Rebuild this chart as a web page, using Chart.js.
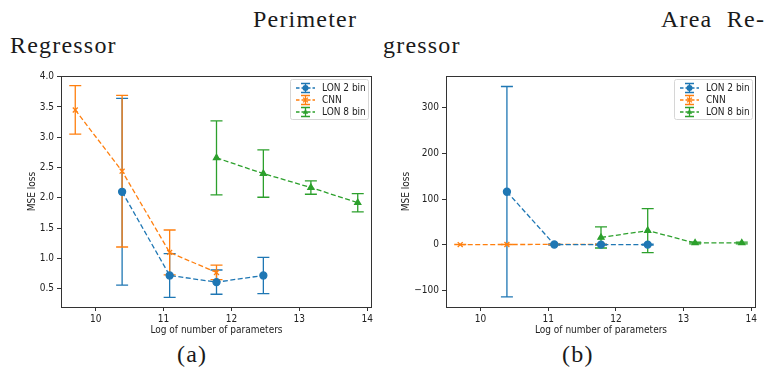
<!DOCTYPE html>
<html lang="en">
<head>
<meta charset="UTF-8">
<title>Perimeter / Area Regressor</title>
<script src="https://cdn.jsdelivr.net/npm/chart.js"></script>
<style>
    body { margin: 0; width: 765px; height: 378px; background: #fff; position: relative; overflow: hidden; }
    .tex { position: absolute; font-family: 'Liberation Serif', serif; font-size: 24px; line-height: 24px; color: #1a1a1a; letter-spacing: 1.2px; white-space: nowrap; }
    canvas { position: absolute; }
</style>
</head>
<body>
    <div class="tex" style="left:253px; top:7px;">Perimeter</div>
    <div class="tex" style="left:10px; top:33px;">Regressor</div>
    <div class="tex" style="left:661px; top:7px;">Area&nbsp; Re-</div>
    <div class="tex" style="left:383px; top:33px;">gressor</div>
    <div class="tex" style="left:177px; top:342px;">(a)</div>
    <div class="tex" style="left:562px; top:342px;">(b)</div>

    <canvas id="perimChart" width="385" height="274" style="left:0; top:66px;"></canvas>
    <canvas id="areaChart" width="380" height="274" style="left:385px; top:66px;"></canvas>

<script>
    // x positions (log of number of parameters)
    const lon2X = [10.39, 11.09, 11.78, 12.47];
    const cnnX = [9.70, 10.39, 11.09, 11.78];
    const lon8X = [11.78, 12.47, 13.17, 13.86];

    // (a) perimeter regressor: mean MSE and error bar half-length
    const lon2Perim = [2.10, 0.72, 0.61, 0.72];
    const lon2PerimErr = [1.54, 0.36, 0.20, 0.30];
    const cnnPerim = [3.45, 2.44, 1.10, 0.77];
    const cnnPerimErr = [0.40, 1.25, 0.37, 0.12];
    const lon8Perim = [2.66, 2.40, 2.17, 1.92];
    const lon8PerimErr = [0.61, 0.39, 0.11, 0.15];

    // (b) area regressor
    const lon2Area = [116, 0.6, 0.4, 0.4];
    const lon2AreaErr = [230, 1.5, 1.0, 1.0];
    const cnnArea = [0.5, 0.6, 0.8, 0.7];
    const cnnAreaErr = [0.3, 0.3, 0.3, 0.3];
    const lon8Area = [16, 31, 4, 4];
    const lon8AreaErr = [23, 48, 2, 2];

    const xTicks = [10, 11, 12, 13, 14];

    const BLUE = '#1f77b4', ORANGE = '#ff7f0e', GREEN = '#2ca02c';
    const SANS = "'DejaVu Sans Condensed', 'DejaVu Sans', sans-serif";
    const FS = 10;

    function pts(xs, ys) {
        return xs.map((x, i) => ({ x: x, y: ys[i] }));
    }

    function drawMarker(ctx, style, color, x, y, r) {
        ctx.save();
        ctx.fillStyle = color;
        ctx.strokeStyle = color;
        ctx.lineWidth = 1.3;
        ctx.setLineDash([]);
        ctx.beginPath();
        if (style === 'circle') {
            ctx.arc(x, y, r, 0, Math.PI * 2);
            ctx.fill();
        } else if (style === 'triangle') {
            ctx.moveTo(x, y - r);
            ctx.lineTo(x + r * 0.9, y + r * 0.6);
            ctx.lineTo(x - r * 0.9, y + r * 0.6);
            ctx.closePath();
            ctx.fill();
        } else {
            ctx.moveTo(x - r * 0.8, y - r * 0.8); ctx.lineTo(x + r * 0.8, y + r * 0.8);
            ctx.moveTo(x + r * 0.8, y - r * 0.8); ctx.lineTo(x - r * 0.8, y + r * 0.8);
            ctx.stroke();
        }
        ctx.restore();
    }

    // vertical error bars with caps, drawn under the lines
    const errorBars = {
        id: 'errorBars',
        beforeDatasetsDraw(chart) {
            const ctx = chart.ctx;
            const xs = chart.scales.x, ys = chart.scales.y;
            chart.data.datasets.forEach(ds => {
                ctx.save();
                ctx.strokeStyle = ds.borderColor;
                ctx.lineWidth = 1.3;
                ds.data.forEach((p, i) => {
                    const e = ds.errors[i];
                    const px = xs.getPixelForValue(p.x);
                    const top = ys.getPixelForValue(p.y + e);
                    const bot = ys.getPixelForValue(p.y - e);
                    ctx.beginPath();
                    ctx.moveTo(px, top); ctx.lineTo(px, bot);
                    ctx.moveTo(px - 6, top); ctx.lineTo(px + 6, top);
                    ctx.moveTo(px - 6, bot); ctx.lineTo(px + 6, bot);
                    ctx.stroke();
                });
                ctx.restore();
            });
        }
    };

    // axes frame + matplotlib-style legend in the upper right
    const frameLegend = {
        id: 'frameLegend',
        afterDraw(chart) {
            const ctx = chart.ctx;
            const a = chart.chartArea;
            ctx.save();
            ctx.strokeStyle = '#333';
            ctx.lineWidth = 1;
            ctx.strokeRect(a.left + 0.5, a.top + 0.5, a.right - a.left - 1, a.bottom - a.top);

            const bw = 78, bh = 40;
            const bx = a.right - 4 - bw, by = a.top + 3;
            ctx.fillStyle = 'rgba(255,255,255,0.85)';
            ctx.strokeStyle = '#d6d6d6';
            ctx.beginPath();
            ctx.roundRect(bx + 0.5, by + 0.5, bw, bh, 2);
            ctx.fill();
            ctx.stroke();

            ctx.font = FS + 'px ' + SANS;
            ctx.textBaseline = 'middle';
            const rows = [9, 21, 33];
            chart.data.datasets.forEach((ds, i) => {
                const y = by + rows[i];
                const hx = bx + 6, cx = hx + 9.5;
                ctx.strokeStyle = ds.borderColor;
                ctx.lineWidth = 1.3;
                ctx.setLineDash([3.5, 2]);
                ctx.beginPath();
                ctx.moveTo(hx, y); ctx.lineTo(hx + 19, y);
                ctx.stroke();
                ctx.setLineDash([]);
                ctx.beginPath();
                ctx.moveTo(cx, y - 4.5); ctx.lineTo(cx, y + 4.5);
                ctx.moveTo(cx - 4.5, y - 4.5); ctx.lineTo(cx + 4.5, y - 4.5);
                ctx.moveTo(cx - 4.5, y + 4.5); ctx.lineTo(cx + 4.5, y + 4.5);
                ctx.stroke();
                drawMarker(ctx, ds.pointStyle, ds.borderColor, cx, y, 3);
                ctx.fillStyle = '#222';
                ctx.fillText(ds.label, bx + 32, y + 0.5);
            });
            ctx.restore();
        }
    };

    function makeChart(id, series, yOpts, padRight, yTitlePad) {
        const styles = [
            { label: 'LON 2 bin', color: BLUE, style: 'circle' },
            { label: 'CNN', color: ORANGE, style: 'crossRot' },
            { label: 'LON 8 bin', color: GREEN, style: 'triangle' }
        ];
        const datasets = series.map((s, i) => ({
            label: styles[i].label,
            data: pts(s.x, s.y),
            errors: s.err,
            borderColor: styles[i].color,
            backgroundColor: styles[i].color,
            borderWidth: 1.3,
            borderDash: [5, 2.5],
            pointStyle: styles[i].style,
            pointRadius: 3.5,
            pointBorderWidth: 1.3,
            fill: false,
            tension: 0
        }));

        return new Chart(document.getElementById(id), {
            type: 'line',
            data: { datasets: datasets },
            plugins: [errorBars, frameLegend],
            options: {
                responsive: false,
                animation: false,
                layout: { padding: { top: 10, right: padRight, bottom: 0, left: 0 } },
                plugins: { legend: { display: false }, tooltip: { enabled: false } },
                scales: {
                    x: {
                        type: 'linear',
                        min: 9.49, max: 14.07,
                        afterFit: s => { s.height = 33; },
                        afterBuildTicks: s => { s.ticks = xTicks.map(v => ({ value: v })); },
                        grid: { drawOnChartArea: false, tickLength: 4, color: '#333' },
                        border: { display: false },
                        ticks: { font: { family: SANS, size: FS }, color: '#222', padding: 2, maxRotation: 0 },
                        title: { display: true, text: 'Log of number of parameters', font: { family: SANS, size: FS }, color: '#222', padding: { top: 0, bottom: 4 } }
                    },
                    y: {
                        min: yOpts.min, max: yOpts.max,
                        afterFit: s => { s.width = 61; },
                        afterBuildTicks: s => { s.ticks = yOpts.ticks.map(v => ({ value: v })); },
                        grid: { drawOnChartArea: false, tickLength: 4, color: '#333' },
                        border: { display: false },
                        ticks: { font: { family: SANS, size: FS }, color: '#222', padding: 3, callback: yOpts.fmt },
                        title: { display: true, text: 'MSE loss', font: { family: SANS, size: FS }, color: '#222', padding: { top: yTitlePad, bottom: 0 } }
                    }
                }
            }
        });
    }

    const perimTicks = [0.5, 1.0, 1.5, 2.0, 2.5, 3.0, 3.5, 4.0];
    const areaTicks = [-100, 0, 100, 200, 300];

    makeChart('perimChart', [
        { x: lon2X, y: lon2Perim, err: lon2PerimErr },
        { x: cnnX, y: cnnPerim, err: cnnPerimErr },
        { x: lon8X, y: lon8Perim, err: lon8PerimErr }
    ], { min: 0.2, max: 4.01, ticks: perimTicks, fmt: v => v.toFixed(1) }, 13, 26);

    makeChart('areaChart', [
        { x: lon2X, y: lon2Area, err: lon2AreaErr },
        { x: cnnX, y: cnnArea, err: cnnAreaErr },
        { x: lon8X, y: lon8Area, err: lon8AreaErr }
    ], { min: -136, max: 369, ticks: areaTicks, fmt: v => String(v).replace('-', '\u2212') }, 9, 15);
</script>
</body>
</html>
